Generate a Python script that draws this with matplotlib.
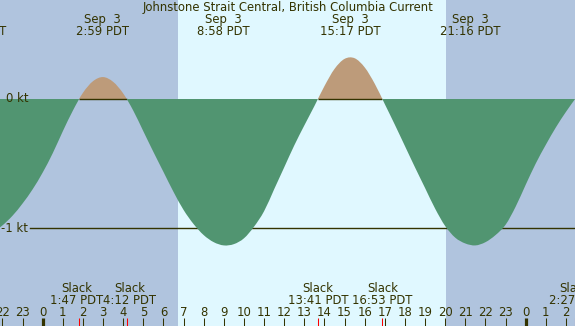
import matplotlib
matplotlib.use("Agg")
import matplotlib.pyplot as plt
from matplotlib.path import Path
from matplotlib.patches import PathPatch, Rectangle
import numpy as np

# ---------------- data ----------------
title = "Johnstone Strait Central, British Columbia Current"

# current speed (kt) read every half hour, hours since Sep 3 00:00 PDT
hours = np.arange(-2.5, 26.51, 0.5)
speed = [-1.04, -0.98, -0.905, -0.81, -0.70, -0.57, -0.42, -0.25, -0.09,
         0.048, 0.138, 0.17, 0.133, 0.043,
         -0.09, -0.25, -0.41, -0.565, -0.72, -0.86, -0.97, -1.055, -1.11,
         -1.135, -1.125, -1.08, -0.99, -0.87, -0.70, -0.53, -0.36, -0.205, -0.055,
         0.10, 0.233, 0.311, 0.316, 0.245, 0.118,
         -0.04, -0.20, -0.365, -0.53, -0.69, -0.85, -0.985, -1.075, -1.12,
         -1.135, -1.11, -1.055, -0.975, -0.835, -0.665, -0.50, -0.355, -0.22, -0.10,
         0.01]

# max current events (top labels)
max_days = ["Sep  2", "Sep  3", "Sep  3", "Sep  3", "Sep  3"]
max_times = ["20:43", "2:59", "8:58", "15:17", "21:16"]
max_offsets_day = [-1, 0, 0, 0, 0]

# slack events (bottom labels)
slack_times = ["1:47", "4:12", "13:41", "16:53", "2:27"]
slack_offsets_day = [0, 0, 0, 0, 1]

# daylight (hours)
sunrise, sunset = 6.74, 20.02

hour_ticks = list(range(-2, 27))
tz = "PDT"

# ---------------- styling ----------------
W, H = 575, 326
night = "#B0C4DE"
day = "#E0F8FF"
ebb_col = "#519571"
flood_col = "#BD9B7A"
fg = "#333300"
fs = 8.4

def to_h(s, d):
    hh, mm = s.split(":")
    return 24 * d + int(hh) + int(mm) / 60.0

px_per_h = 20.125
h0_px = 42.7
xlim = (-h0_px / px_per_h, (W - h0_px) / px_per_h)
px_per_kt = 129.0
zero_px = 99.0
ylim = ((zero_px - H) / px_per_kt, zero_px / px_per_kt)

fig = plt.figure(figsize=(W / 100, H / 100), dpi=100)
ax = fig.add_axes([0, 0, 1, 1])
ax.set_xlim(*xlim)
ax.set_ylim(*ylim)
ax.axis("off")
fig.patch.set_facecolor(night)
ax.add_patch(Rectangle((xlim[0], ylim[0]), xlim[1] - xlim[0], ylim[1] - ylim[0],
                       facecolor=night, edgecolor="none", zorder=0))
ax.axvspan(sunrise, sunset, facecolor=day, edgecolor="none", zorder=0.5)

# smooth curve path (Catmull-Rom as cubic Bezier) through the read points
xs = np.asarray(hours, dtype=float)
ys = np.asarray(speed, dtype=float)
n = len(xs)
verts = [(xs[0], 0.0), (xs[0], ys[0])]
codes = [Path.MOVETO, Path.LINETO]
for i in range(n - 1):
    p0 = np.array([xs[max(i - 1, 0)], ys[max(i - 1, 0)]])
    p1 = np.array([xs[i], ys[i]])
    p2 = np.array([xs[i + 1], ys[i + 1]])
    p3 = np.array([xs[min(i + 2, n - 1)], ys[min(i + 2, n - 1)]])
    c1 = p1 + (p2 - p0) / 6.0
    c2 = p2 - (p3 - p1) / 6.0
    verts += [tuple(c1), tuple(c2), tuple(p2)]
    codes += [Path.CURVE4] * 3
verts += [(xs[-1], 0.0), (xs[0], 0.0)]
codes += [Path.LINETO, Path.CLOSEPOLY]
curve = Path(verts, codes)

# -1 kt reference line
ax.plot([30 / W * (xlim[1] - xlim[0]) + xlim[0], xlim[1]], [-1, -1], color=fg, lw=1.0, zorder=1)

# flood fill (clipped above zero)
flood = PathPatch(curve, facecolor=flood_col, edgecolor="none", zorder=2)
ax.add_patch(flood)
flood.set_clip_path(Rectangle((xlim[0], 0), xlim[1] - xlim[0], ylim[1], transform=ax.transData))

# zero line under flood areas
sl_h = [to_h(s, d) for s, d in zip(slack_times, slack_offsets_day)]
for a, b in [(sl_h[0], sl_h[1]), (sl_h[2], sl_h[3])]:
    ax.plot([a, b], [0, 0], color=fg, lw=1.0, zorder=3, solid_capstyle="butt")

# ebb fill (clipped below zero)
ebb = PathPatch(curve, facecolor=ebb_col, edgecolor="none", zorder=4)
ax.add_patch(ebb)
ebb.set_clip_path(Rectangle((xlim[0], ylim[0]), xlim[1] - xlim[0], -ylim[0], transform=ax.transData))

xt = ax.get_xaxis_transform()
yf = lambda py: 1 - py / H

# kt labels
ax.text(28 / W, 0, "0 kt", transform=ax.get_yaxis_transform(), ha="right", va="center",
        color=fg, fontsize=fs, zorder=6)
ax.text(28 / W, -1, "-1 kt", transform=ax.get_yaxis_transform(), ha="right", va="center",
        color=fg, fontsize=fs, zorder=6)

# title
ax.text(0.5, yf(7.5), title, transform=ax.transAxes, ha="center", va="center",
        color=fg, fontsize=fs, zorder=6)

# max labels
for dlab, t, d in zip(max_days, max_times, max_offsets_day):
    h = to_h(t, d)
    ax.text(h, yf(19.5), dlab, transform=xt, ha="center", va="center", color=fg,
            fontsize=fs, zorder=6)
    ax.text(h, yf(31.5), f"{t} {tz}", transform=xt, ha="center", va="center", color=fg,
            fontsize=fs, zorder=6)

# slack labels with push-apart
slack_objs = []
for t, h in zip(slack_times, sl_h):
    a = ax.text(h, yf(288), "Slack", transform=xt, ha="center", va="center", color=fg,
                fontsize=fs, zorder=6)
    b = ax.text(h, yf(300), f"{t} {tz}", transform=xt, ha="center", va="center", color=fg,
                fontsize=fs, zorder=6)
    slack_objs.append((a, b, h))

fig.canvas.draw()
r = fig.canvas.get_renderer()
shifts = [0.0] * len(slack_objs)
for i in range(len(slack_objs) - 1):
    b1 = slack_objs[i][1].get_window_extent(r)
    b2 = slack_objs[i + 1][1].get_window_extent(r)
    ov = (b1.x1 + shifts[i]) - (b2.x0 + shifts[i + 1])
    if ov > 0:
        shifts[i] -= ov / 2
        shifts[i + 1] += ov / 2
for (a, b, h), s in zip(slack_objs, shifts):
    nh = h + s / px_per_h
    a.set_x(nh)
    b.set_x(nh)

# hour ticks & labels
for hr in hour_ticks:
    lw = 2.3 if hr % 24 == 0 else 0.75
    ax.plot([hr, hr], [yf(318), yf(326)], transform=xt, color=fg, lw=lw, zorder=5,
            solid_capstyle="butt")
    ax.text(hr, yf(312), str(hr % 24), transform=xt, ha="center", va="center", color=fg,
            fontsize=fs, zorder=6)
for h in sl_h:
    ax.plot([h, h], [yf(318), yf(326)], transform=xt, color="red", lw=0.75, zorder=5,
            solid_capstyle="butt")

fig.savefig("out.png", dpi=100, facecolor=night)
